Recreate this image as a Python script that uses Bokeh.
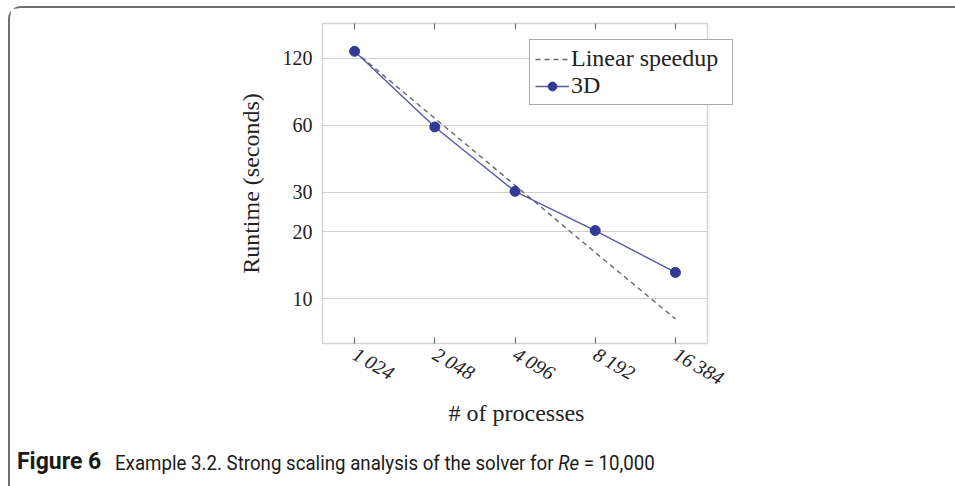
import math
from bokeh.plotting import figure
from bokeh.layouts import column
from bokeh.models import (Range1d, FixedTicker, LogAxis, BoxAnnotation, Div,
                          Legend, LegendItem, Title)
from bokeh.embed import file_html
from bokeh.resources import INLINE

# ---- data ----
processes = [1024, 2048, 4096, 8192, 16384]
tick_labels = ["1\u2009024", "2\u2009048", "4\u2009096", "8\u2009192", "16\u2009384"]
runtime_3d = [129, 59, 30.3, 20.2, 13.1]
linear_speedup = [129, 64.5, 32.3, 16.1, 8.1]
y_ticks = [10, 20, 30, 60, 120]
caption_bold = "Figure 6"
caption_text = "Example 3.2. Strong scaling analysis of the solver for <i>Re</i> = 10,000"

SERIF = "Liberation Serif"
GRAY = "#707070"
TXT = "#222222"
PW, PH = 945, 428          # figure size (inside the rounded border)
OX, OY = 10, 8             # figure origin on the page

# plot box (drawn) and the slightly larger view (frame)
x_lo, x_hi = 1024 * 2 ** -0.4, 16384 * 2 ** 0.4
y_lo, y_hi = 6.28, 172
xv_lo, xv_hi = x_lo * 2 ** (-4 / 80.3), x_hi * 2 ** (33 / 80.3)
yv_lo, yv_hi = y_lo * 2 ** (-4 / 67), y_hi * 2 ** (4 / 67)
F_LEFT, F_RIGHT, F_TOP, F_BOTTOM = 318, 740, 19, 347   # frame on the page

p = figure(width=PW, height=PH, x_axis_type="log", y_axis_type="log",
           x_range=Range1d(xv_lo, xv_hi), y_range=Range1d(yv_lo, yv_hi),
           output_backend="svg", toolbar_location=None,
           min_border_left=F_LEFT - OX, min_border_right=PW - (F_RIGHT - OX),
           min_border_top=F_TOP - OY, min_border_bottom=PH - (F_BOTTOM - OY))
p.background_fill_color = "white"
p.border_fill_color = "white"
p.outline_line_color = None

# grid
p.xgrid.grid_line_color = None
p.ygrid.ticker = FixedTicker(ticks=y_ticks)
p.ygrid.grid_line_color = "#cfcfcf"
p.ygrid.grid_line_width = 1.2
p.ygrid.cross_bounds = (x_lo, x_hi)

# plot box
p.add_layout(BoxAnnotation(left=x_lo, right=x_hi, bottom=y_lo, top=y_hi,
                           fill_alpha=0, line_color=GRAY, line_width=1.5))

# x axis: labels only
xa = p.xaxis[0]
xa.ticker = FixedTicker(ticks=processes)
xa.major_label_overrides = {v: t for v, t in zip(processes, tick_labels)}
xa.major_label_orientation = -math.pi / 6
xa.major_label_text_font = SERIF
xa.major_label_text_font_style = "italic"
xa.major_label_text_font_size = "20px"
xa.major_label_text_color = TXT
xa.major_tick_line_color = None
xa.major_tick_in = 0
xa.major_tick_out = 0
xa.minor_tick_line_color = None
xa.axis_line_color = None
xa.major_label_standoff = 5

# tick marks on the bottom and top edges of the box
for loc, t_in, t_out in ((y_lo, 6, 0), (y_hi, 0, 6)):
    p.add_layout(LogAxis(ticker=FixedTicker(ticks=processes), fixed_location=loc,
                         major_tick_in=t_in, major_tick_out=t_out,
                         major_tick_line_color=GRAY, major_tick_line_width=1.2,
                         minor_tick_line_color=None, axis_line_color=None,
                         major_label_overrides={v: "" for v in processes},
                         major_label_standoff=0), "below")

xtitle = Title(text="# of processes", align="left", offset=130,
               text_font=SERIF, text_font_size="24px", text_font_style="normal",
               text_color=TXT, standoff=-8)
p.add_layout(xtitle, "below")

# y axis
ya = p.yaxis[0]
ya.ticker = FixedTicker(ticks=y_ticks)
ya.major_label_overrides = {v: str(v) for v in y_ticks}
ya.major_label_text_font = SERIF
ya.major_label_text_font_size = "20px"
ya.major_label_text_color = TXT
ya.major_tick_line_color = None
ya.major_tick_in = 0
ya.major_tick_out = 0
ya.minor_tick_line_color = None
ya.axis_line_color = None
ya.major_label_standoff = 6
ya.axis_label = "Runtime (seconds)"
ya.axis_label_text_font = SERIF
ya.axis_label_text_font_style = "normal"
ya.axis_label_text_font_size = "24px"
ya.axis_label_text_color = TXT
ya.axis_label_standoff = 16

# series
lin = p.line(processes, linear_speedup, line_color="#666666", line_width=1.4,
             line_dash="5 4")
l3 = p.line(processes, runtime_3d, line_color="#5458a6", line_width=1.4)
s3 = p.scatter(processes, runtime_3d, size=10, fill_color="#2f3b95",
               line_color="#2f3b95")

legend = Legend(items=[LegendItem(label="Linear speedup", renderers=[lin]),
                       LegendItem(label="3D", renderers=[l3, s3])],
                location=(529 - F_LEFT, F_BOTTOM - 105))
legend.label_text_font = SERIF
legend.label_text_font_size = "24px"
legend.label_text_line_height = 1.0
legend.label_text_color = TXT
legend.label_standoff = 2
legend.label_height = 22
legend.label_width = 156
legend.glyph_width = 34
legend.glyph_height = 22
legend.spacing = -2
legend.padding = 5
legend.margin = 0
legend.border_line_color = "#555555"
legend.border_line_width = 1.2
legend.background_fill_alpha = 1.0
p.add_layout(legend, "center")

cap = Div(text=('<div style="position: relative; width: 100%; height: 100%; '
                'font-family: Roboto, sans-serif; color: #1a1a1a; white-space: nowrap;">'
                '<span style="position: absolute; left: 7px; top: -2px; font-size: 23px; '
                'font-weight: bold;">' + caption_bold + '</span>'
                '<span style="position: absolute; left: 105px; top: 0px; font-size: 21px; '
                'display: inline-block; transform: scaleX(0.89); transform-origin: 0 0;">'
                + caption_text + '</span></div>'),
          width=PW, height=486 - OY - PH, margin=0)

layout = column(p, cap, margin=(6, 0, 0, 8), spacing=0,
                styles={"border-top": "2px solid " + GRAY,
                        "border-left": "2px solid " + GRAY,
                        "border-top-left-radius": "13px",
                        "background-color": "white"})

open("out.html", "w").write(file_html(layout, INLINE))
